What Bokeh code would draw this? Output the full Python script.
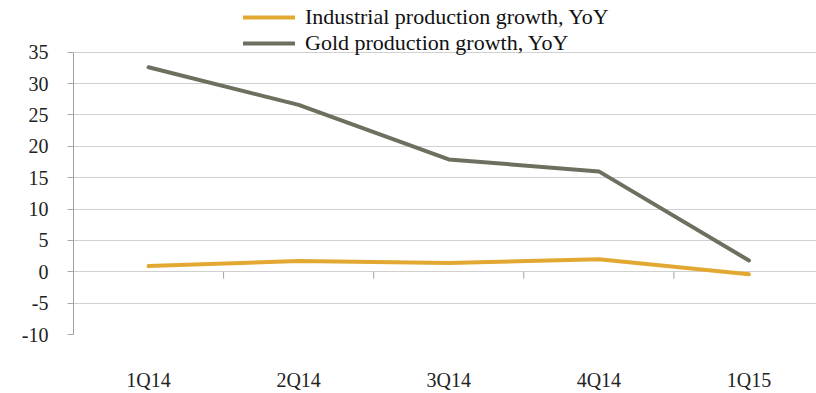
from bokeh.plotting import figure
from bokeh.models import Range1d, FixedTicker, Legend, LegendItem, ColumnDataSource
from bokeh.embed import file_html
from bokeh.resources import INLINE

quarters = ["1Q14", "2Q14", "3Q14", "4Q14", "1Q15"]
industrial = [0.9, 1.7, 1.4, 2.0, -0.4]
gold = [32.6, 26.6, 17.9, 16.0, 1.8]
y_ticks = [-10, -5, 0, 5, 10, 15, 20, 25, 30, 35]

FONT = "'Liberation Serif', 'Times New Roman', serif"
x_idx = list(range(len(quarters)))

# frame spans from canvas top (y=0px) down to 336px; axis values occupy 52..336px
px_per_unit = (336 - 52) / (y_ticks[-1] - y_ticks[0])
y_top = y_ticks[-1] + 52 / px_per_unit

p = figure(width=816, height=393, output_backend="svg", toolbar_location=None,
           x_range=Range1d(-0.5, 4.45), y_range=Range1d(y_ticks[0], y_top),
           min_border_left=73, min_border_right=0, min_border_top=0,
           min_border_bottom=57)
p.outline_line_color = None
p.background_fill_color = "white"
p.border_fill_color = "white"

# grid
p.xgrid.grid_line_color = None
p.ygrid.ticker = FixedTicker(ticks=y_ticks)
p.ygrid.grid_line_color = "#A0A0A0"
p.ygrid.grid_line_dash = "1 1"
p.ygrid.grid_line_width = 1

# y axis
p.yaxis.ticker = FixedTicker(ticks=y_ticks)
p.yaxis.major_label_overrides = {t: str(t) for t in y_ticks}
p.yaxis.bounds = (y_ticks[0], y_ticks[-1])
p.yaxis.axis_line_color = "#A0A0A0"
p.yaxis.major_tick_line_color = "#A8A8A8"
p.yaxis.major_tick_out = 6
p.yaxis.major_tick_in = 0
p.yaxis.minor_tick_line_color = None
p.yaxis.major_label_standoff = 19
p.yaxis.major_label_text_font = FONT
p.yaxis.major_label_text_font_size = "20px"
p.yaxis.major_label_text_color = "#222222"

# x axis (labels only, at bottom)
p.xaxis.ticker = FixedTicker(ticks=x_idx)
p.xaxis.major_label_overrides = {i: q for i, q in zip(x_idx, quarters)}
p.xaxis.axis_line_color = None
p.xaxis.major_tick_line_color = None
p.xaxis.minor_tick_line_color = None
p.xaxis.major_label_standoff = 28
p.xaxis.major_label_text_font = FONT
p.xaxis.major_label_text_font_size = "20px"
p.xaxis.major_label_text_color = "#222222"

# category boundary ticks on the zero line
bounds = [i + 0.5 for i in x_idx[:-1]]
p.segment(x0=bounds, y0=[0] * len(bounds), x1=bounds, y1=[-1.1] * len(bounds),
          line_color="#A0A0A0", line_width=1)

src = ColumnDataSource(dict(x=x_idx, ind=industrial, gold=gold))
r_ind = p.line("x", "ind", source=src, line_color="#E2A832", line_width=4,
               line_join="round", line_cap="round")
r_gold = p.line("x", "gold", source=src, line_color="#6F6F60", line_width=4,
                line_join="round", line_cap="round")

legend = Legend(items=[LegendItem(label="Industrial production growth, YoY", renderers=[r_ind]),
                       LegendItem(label="Gold production growth, YoY", renderers=[r_gold])],
                location=(170, 278), orientation="vertical",
                padding=0, spacing=0, margin=0,
                glyph_width=52, glyph_height=24, label_height=24, label_standoff=10,
                label_text_font=FONT, label_text_font_size="22px",
                label_text_color="#111111",
                border_line_alpha=0, background_fill_alpha=0)
p.add_layout(legend, "center")

open("out.html", "w").write(file_html(p, INLINE))
